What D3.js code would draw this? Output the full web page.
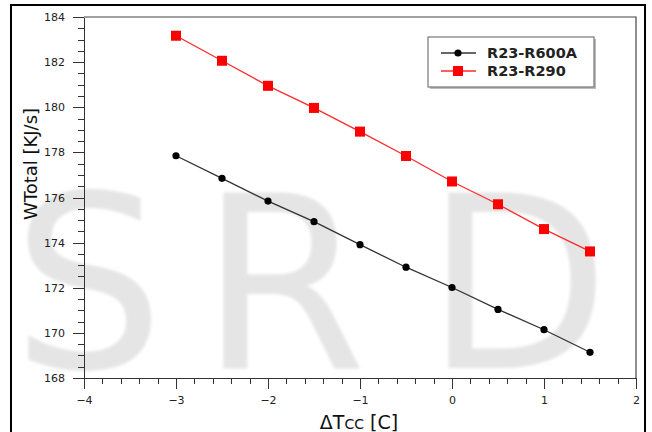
<!DOCTYPE html>
<html>
<head>
<meta charset="utf-8">
<title>WTotal vs dTcc</title>
<script src="https://d3js.org/d3.v7.min.js"></script>
<style>
  body { margin: 0; background: #fff; }
  svg { display: block; font-family: "DejaVu Sans", Verdana, sans-serif; }
  .axis path, .axis line { stroke: #333; shape-rendering: crispEdges; }
  .axis text { font-family: "DejaVu Sans", Verdana, sans-serif; font-size: 11px; fill: #222; }
</style>
</head>
<body>
<svg width="652" height="432"></svg>
<script>
  // data
  var dT = [-3, -2.5, -2, -1.5, -1, -0.5, 0, 0.5, 1, 1.5];
  var r600a = [177.85, 176.85, 175.84, 174.93, 173.91, 172.91, 172.01, 171.04, 170.14, 169.14];
  var r290 = [183.17, 182.06, 180.95, 179.97, 178.92, 177.84, 176.71, 175.70, 174.60, 173.61];
  var seriesNames = ["R23-R600A", "R23-R290"];
  var xTicks = [-4, -3, -2, -1, 0, 1, 2];
  var yTicks = [168, 170, 172, 174, 176, 178, 180, 182, 184];

  var svg = d3.select("svg");
  var plotL = 84, plotR = 636, plotT = 17, plotB = 378;

  var x = d3.scaleLinear().domain([-4, 2]).range([plotL, plotR]);
  var y = d3.scaleLinear().domain([168, 184]).range([plotB, plotT]);

  // faint watermark behind everything
  var defs = svg.append("defs");
  defs.append("filter").attr("id", "soft")
    .append("feGaussianBlur").attr("stdDeviation", 1.5);
  svg.append("text")
    .attr("x", "12 200 425").attr("y", 368)
    .attr("font-size", 240)
    .attr("fill", "#e5e5e5")
    .attr("filter", "url(#soft)")
    .text("SRD");

  // outer frame of the figure
  svg.append("rect")
    .attr("x", 11).attr("y", 5)
    .attr("width", 634).attr("height", 440)
    .attr("fill", "none").attr("stroke", "#000").attr("stroke-width", 2);

  // plot frame (top and right)
  svg.append("path")
    .attr("d", "M" + plotL + "," + plotT + "H" + plotR + "V" + plotB)
    .attr("fill", "none").attr("stroke", "#444").attr("stroke-width", 1.2);

  // minor ticks
  svg.append("g").attr("class", "axis")
    .attr("transform", "translate(0," + plotB + ")")
    .call(d3.axisBottom(x).tickValues(d3.range(-4, 2.001, 0.2)).tickSize(6).tickFormat(""))
    .call(function (g) { g.select(".domain").remove(); g.selectAll("text").remove(); });
  svg.append("g").attr("class", "axis")
    .attr("transform", "translate(" + plotL + ",0)")
    .call(d3.axisLeft(y).tickValues(d3.range(168, 184.001, 0.5)).tickSize(6).tickFormat(""))
    .call(function (g) { g.select(".domain").remove(); g.selectAll("text").remove(); });

  // major ticks with labels
  svg.append("g").attr("class", "axis")
    .attr("transform", "translate(0," + plotB + ")")
    .call(d3.axisBottom(x).tickValues(xTicks).tickSize(11).tickSizeOuter(0).tickPadding(7).tickFormat(d3.format("d")));
  svg.append("g").attr("class", "axis")
    .attr("transform", "translate(" + plotL + ",0)")
    .call(d3.axisLeft(y).tickValues(yTicks).tickSize(11).tickSizeOuter(0).tickPadding(8).tickFormat(d3.format("d")));

  // axis titles
  var xt = svg.append("text")
    .attr("x", 359).attr("y", 429)
    .attr("text-anchor", "middle")
    .attr("font-size", 19).attr("fill", "#111");
  xt.append("tspan").text("\u0394T");
  xt.append("tspan").attr("font-size", 14).text("CC");
  xt.append("tspan").text(" [C]");

  svg.append("text")
    .attr("transform", "translate(37,164) rotate(-90)")
    .attr("text-anchor", "middle")
    .attr("font-size", 18).attr("fill", "#111")
    .text("WTotal [KJ/s]");

  var line = d3.line()
    .x(function (d) { return x(d[0]); })
    .y(function (d) { return y(d[1]); });

  var blackPts = dT.map(function (d, i) { return [d, r600a[i]]; });
  var redPts = dT.map(function (d, i) { return [d, r290[i]]; });

  svg.append("path").datum(blackPts)
    .attr("d", line).attr("fill", "none")
    .attr("stroke", "#333").attr("stroke-width", 1.3);
  svg.append("g").selectAll("circle")
    .data(blackPts).enter().append("circle")
    .attr("cx", function (d) { return x(d[0]); })
    .attr("cy", function (d) { return y(d[1]); })
    .attr("r", 3.6).attr("fill", "#000");

  svg.append("path").datum(redPts)
    .attr("d", line).attr("fill", "none")
    .attr("stroke", "#ff2a2a").attr("stroke-width", 1.3);
  svg.append("g").selectAll("rect")
    .data(redPts).enter().append("rect")
    .attr("x", function (d) { return x(d[0]) - 5; })
    .attr("y", function (d) { return y(d[1]) - 5; })
    .attr("width", 10).attr("height", 10)
    .attr("fill", "#ff0000");

  // legend
  var lg = svg.append("g");
  lg.append("rect")
    .attr("x", 430).attr("y", 39).attr("width", 166).attr("height", 50)
    .attr("fill", "#bbb");
  lg.append("rect")
    .attr("x", 428).attr("y", 37).attr("width", 166).attr("height", 50)
    .attr("fill", "#fff").attr("stroke", "#777").attr("stroke-width", 1.2);

  var legendRows = [
    { name: seriesNames[0], color: "#333", mark: "circle", y: 53 },
    { name: seriesNames[1], color: "#ff2a2a", mark: "square", y: 71 }
  ];
  legendRows.forEach(function (row) {
    lg.append("line")
      .attr("x1", 441).attr("x2", 476)
      .attr("y1", row.y).attr("y2", row.y)
      .attr("stroke", row.color).attr("stroke-width", 1.3);
    if (row.mark === "circle") {
      lg.append("circle").attr("cx", 458).attr("cy", row.y).attr("r", 3.6).attr("fill", "#000");
    } else {
      lg.append("rect").attr("x", 453).attr("y", row.y - 5).attr("width", 10).attr("height", 10).attr("fill", "#ff0000");
    }
    lg.append("text")
      .attr("x", 487).attr("y", row.y + 5)
      .attr("font-size", 14.5).attr("font-weight", "bold").attr("fill", "#222")
      .text(row.name);
  });
</script>
</body>
</html>
